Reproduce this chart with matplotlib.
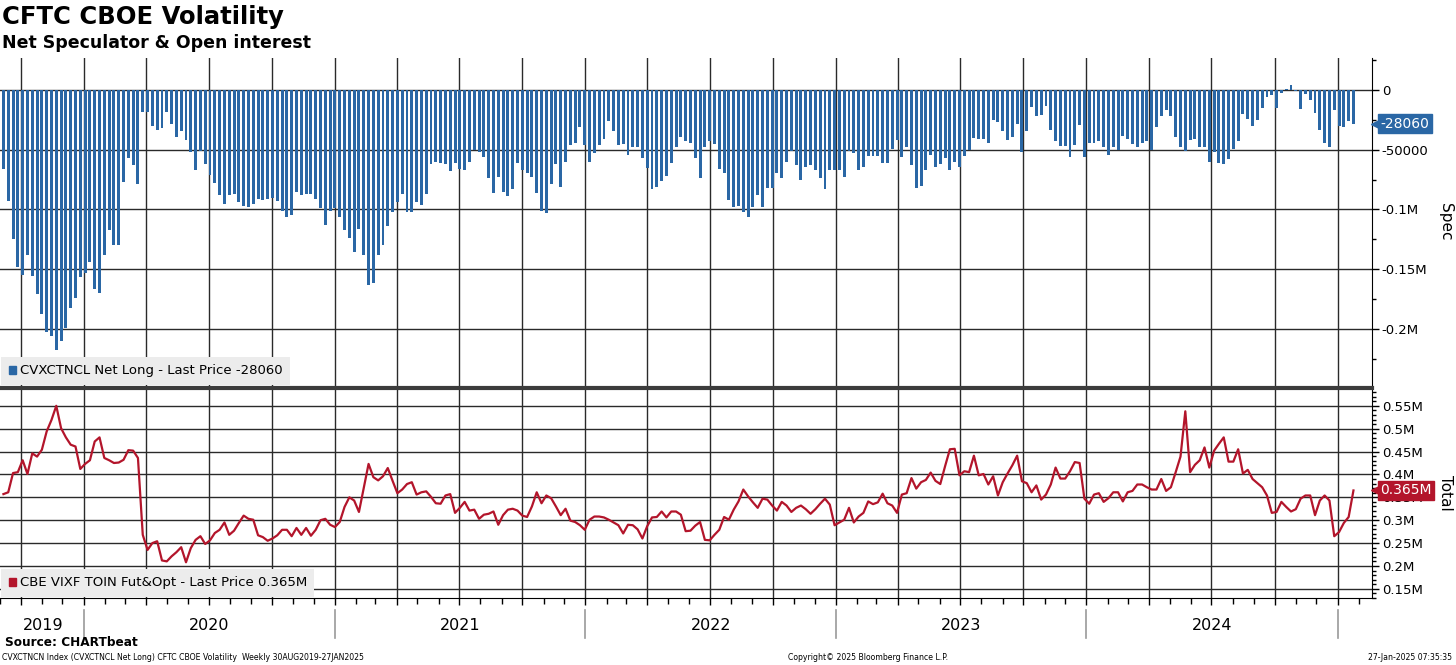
import matplotlib
matplotlib.use("Agg")
import matplotlib.pyplot as plt
import matplotlib.dates as mdates
import matplotlib.transforms as mtransforms
from matplotlib.patches import Patch
from matplotlib.ticker import FixedLocator, FixedFormatter, MultipleLocator
import pandas as pd

# weekly net speculator position (contracts)
spec = [
    -66000, -93000, -125000, -148000, -155000, -138000, -156000, -171000, -188000, -203000,
    -206000, -218000, -210000, -199000, -183000, -174000, -157000, -153000, -144000, -167000,
    -170000, -138000, -117000, -130000, -130000, -77000, -57000, -63000, -79000, -18000,
    -18000, -30000, -33000, -32000, -18000, -28000, -39000, -34000, -42000, -52000,
    -67000, -51000, -62000, -71000, -78000, -88000, -95000, -88000, -87000, -94000,
    -97000, -98000, -95000, -91000, -92000, -91000, -90000, -93000, -101000, -106000,
    -105000, -85000, -88000, -87000, -87000, -91000, -99000, -113000, -101000, -99000,
    -106000, -117000, -124000, -136000, -116000, -138000, -163000, -162000, -138000, -130000,
    -114000, -102000, -94000, -87000, -102000, -102000, -94000, -96000, -87000, -62000,
    -60000, -61000, -62000, -68000, -61000, -66000, -67000, -60000, -50000, -52000,
    -56000, -74000, -86000, -73000, -85000, -89000, -83000, -61000, -67000, -69000,
    -73000, -86000, -101000, -103000, -79000, -62000, -81000, -60000, -46000, -44000,
    -31000, -46000, -60000, -53000, -46000, -41000, -26000, -34000, -46000, -45000,
    -54000, -48000, -48000, -57000, -65000, -83000, -81000, -76000, -72000, -61000,
    -48000, -39000, -43000, -44000, -57000, -74000, -48000, -43000, -45000, -66000,
    -69000, -92000, -98000, -97000, -102000, -106000, -98000, -88000, -98000, -82000,
    -82000, -69000, -74000, -60000, -51000, -63000, -75000, -64000, -63000, -67000,
    -74000, -83000, -67000, -67000, -67000, -73000, -51000, -53000, -67000, -64000,
    -55000, -55000, -55000, -61000, -61000, -49000, -42000, -56000, -48000, -63000,
    -82000, -80000, -67000, -54000, -64000, -62000, -57000, -67000, -60000, -64000,
    -55000, -50000, -40000, -41000, -41000, -44000, -25000, -27000, -34000, -42000,
    -39000, -28000, -52000, -34000, -14000, -22000, -21000, -13000, -33000, -43000,
    -47000, -47000, -56000, -46000, -29000, -56000, -44000, -44000, -43000, -48000,
    -54000, -48000, -50000, -38000, -41000, -45000, -48000, -44000, -43000, -50000,
    -31000, -22000, -17000, -22000, -39000, -48000, -51000, -42000, -41000, -48000,
    -48000, -60000, -52000, -61000, -62000, -58000, -49000, -43000, -20000, -24000,
    -30000, -25000, -15000, -6000, -4000, -15000, -2000, 1000, 4000, -500,
    -16000, -3000, -8000, -19000, -33000, -44000, -48000, -17000, -30000, -31000,
    -26000, -28060,
]

# weekly total open interest, futures & options (thousand contracts)
total_k = [
    357, 361, 403, 405, 431, 401, 446, 439, 454, 494,
    519, 550, 501, 481, 465, 461, 412, 423, 431, 472,
    481, 436, 431, 425, 426, 432, 453, 452, 436, 268,
    235, 250, 254, 212, 210, 221, 230, 241, 208, 239,
    257, 265, 248, 256, 272, 279, 295, 268, 277, 294,
    310, 303, 301, 267, 263, 255, 260, 267, 279, 279,
    265, 283, 268, 283, 266, 279, 300, 303, 290, 285,
    296, 329, 350, 343, 318, 370, 423, 394, 387, 396,
    414, 386, 359, 367, 379, 383, 356, 361, 363, 351,
    337, 336, 354, 357, 316, 327, 340, 321, 323, 303,
    312, 314, 319, 290, 311, 323, 325, 321, 310, 307,
    330, 361, 337, 354, 348, 330, 311, 325, 299, 296,
    289, 279, 301, 308, 308, 306, 301, 295, 289, 271,
    290, 289, 280, 260, 287, 306, 307, 319, 306, 319,
    319, 312, 276, 277, 288, 296, 257, 256, 268, 279,
    307, 301, 323, 341, 367, 352, 339, 327, 347, 345,
    332, 321, 340, 332, 318, 327, 332, 324, 314, 324,
    336, 347, 334, 289, 295, 301, 327, 295, 308, 316,
    341, 335, 339, 358, 337, 332, 316, 356, 359, 392,
    369, 383, 388, 404, 386, 379, 418, 455, 456, 398,
    407, 405, 441, 398, 401, 378, 396, 354, 383, 402,
    420, 441, 385, 381, 361, 376, 345, 356, 378, 415,
    391, 391, 407, 427, 425, 347, 336, 356, 359, 340,
    348, 361, 361, 341, 361, 364, 378, 378, 372, 367,
    367, 390, 364, 372, 405, 439, 538, 405, 421, 431,
    459, 415, 452, 467, 481, 428, 428, 455, 402, 410,
    390, 381, 372, 354, 316, 318, 340, 329, 319, 324,
    347, 354, 354, 311, 343, 354, 343, 265, 274, 294,
    307, 365,
]
total = [v * 1000 for v in total_k]

spec_ticks = [0, -50000, -100000, -150000, -200000]
spec_tick_labels = ["0", "-50000", "-0.1M", "-0.15M", "-0.2M"]
total_ticks = [150000, 200000, 250000, 300000, 350000, 400000, 450000, 500000, 550000]
total_tick_labels = ["0.15M", "0.2M", "0.25M", "0.3M", "0.35M", "0.4M", "0.45M", "0.5M", "0.55M"]
years = [2019, 2020, 2021, 2022, 2023, 2024]

BLUE = "#2a67a5"
RED = "#b3152b"
GRID = "#2a2a2a"

dates_spec = pd.date_range(end="2025-01-24", periods=len(spec), freq="7D")
dates_total = pd.date_range(end="2025-01-24", periods=len(total), freq="7D")
x_lo, x_hi = pd.Timestamp("2019-09-04 12:00"), pd.Timestamp("2025-02-20")

fig = plt.figure(figsize=(14.56, 6.65), dpi=100)
ax1 = fig.add_axes([0.0, 0.4195, 0.9423, 0.4933])
ax2 = fig.add_axes([0.0, 0.1008, 0.9423, 0.3158])

quarters = pd.date_range("2019-10-01", "2025-01-01", freq="QS")
months = pd.date_range("2019-09-01", "2025-02-01", freq="MS")

for ax in (ax1, ax2):
    ax.set_xlim(x_lo, x_hi)
    ax.set_xticks(quarters)
    ax.set_xticks(months, minor=True)
    ax.xaxis.set_major_formatter(plt.NullFormatter())
    ax.grid(True, axis="both", which="major", color=GRID, lw=1.0)
    ax.set_axisbelow(True)
    for s in ("left", "top", "bottom"):
        ax.spines[s].set_visible(False)
    ax.spines["right"].set_color("black")
    ax.yaxis.tick_right()
    ax.tick_params(axis="y", which="major", direction="out", length=5, width=1,
                   labelsize=9.5, pad=2)
    ax.tick_params(axis="y", which="minor", direction="out", length=3, width=1)

ax1.tick_params(axis="x", which="both", length=0)
ax2.spines["bottom"].set_visible(True)
ax2.spines["top"].set_visible(True)
ax2.spines["top"].set_linewidth(3)
ax2.spines["top"].set_color("#3c3c3c")
ax2.tick_params(axis="x", which="major", direction="out", length=5, width=1)
ax2.tick_params(axis="x", which="minor", direction="out", length=4, width=1)

# top panel: net speculator bars
ax1.bar(dates_spec, spec, width=4.3, color=BLUE, zorder=2)
ax1.set_ylim(-248000, 27000)
ax1.yaxis.set_major_locator(FixedLocator(spec_ticks))
ax1.yaxis.set_major_formatter(FixedFormatter(spec_tick_labels))
ax1.yaxis.set_minor_locator(MultipleLocator(25000))
ax1.yaxis.set_label_position("right")
ax1.set_ylabel("Spec", rotation=270, fontsize=11, labelpad=18)

# bottom panel: total open interest line
ax2.plot(dates_total, total, color=RED, lw=1.6, zorder=3)
ax2.set_ylim(130000, 589000)
ax2.yaxis.set_major_locator(FixedLocator(total_ticks))
ax2.yaxis.set_major_formatter(FixedFormatter(total_tick_labels))
ax2.yaxis.set_minor_locator(MultipleLocator(10000))
ax2.yaxis.set_label_position("right")
ax2.set_ylabel("Total", rotation=270, fontsize=11, labelpad=22)

# last-price tags on the right axis
for ax, val, txt, col in ((ax1, spec[-1], "-28060", BLUE),
                          (ax2, total[-1], "0.365M", RED)):
    tr = mtransforms.blended_transform_factory(ax.transAxes, ax.transData)
    ax.plot([1.003], [val], marker="<", ms=7, color=col, transform=tr, clip_on=False, zorder=5)
    ax.text(1.006, val, txt, transform=tr, color="white", fontsize=10, va="center", ha="left",
            bbox=dict(boxstyle="square,pad=0.18", fc=col, ec=col), zorder=6)

# legends
leg_kw = dict(loc="lower left", bbox_to_anchor=(0.0, 0.0), frameon=True, fancybox=False,
              facecolor="#ececec", edgecolor="none", framealpha=1, fontsize=9.5,
              handlelength=0.6, handleheight=0.6, handletextpad=0.25, borderpad=0.55,
              borderaxespad=0.1)
ax1.legend(handles=[Patch(color=BLUE, label="CVXCTNCL Net Long - Last Price -28060")], **leg_kw)
ax2.legend(handles=[Patch(color=RED, label="CBE VIXF TOIN Fut&Opt - Last Price 0.365M")], **leg_kw)

# year labels and separators below the lower panel
trx = mtransforms.blended_transform_factory(ax2.transData, fig.transFigure)
for yr in years:
    start = max(pd.Timestamp(f"{yr}-01-01"), x_lo)
    end = pd.Timestamp(f"{yr + 1}-01-01")
    mid = start + (end - start) / 2
    ax2.text(mid, 1 - 626 / 665, str(yr), transform=trx, ha="center", va="center",
             fontsize=11.5, clip_on=False)
for yr in years[1:] + [2025]:
    d = pd.Timestamp(f"{yr}-01-01")
    ax2.plot([d, d], [1 - 610 / 665, 1 - 638 / 665], color="#9a9a9a", lw=1.2,
             transform=trx, clip_on=False)

fig.text(0.0015, 1 - 17 / 665, "CFTC CBOE Volatility", fontsize=17.5, fontweight="bold",
         va="center", ha="left")
fig.text(0.0015, 1 - 43 / 665, "Net Speculator & Open interest", fontsize=12.5,
         fontweight="bold", va="center", ha="left")
fig.text(0.0035, 1 - 643 / 665, "Source: CHARTbeat", fontsize=8.7, fontweight="bold",
         va="center", ha="left")
fig.text(0.0015, 1 - 657 / 665,
         "CVXCTNCN Index (CVXCTNCL Net Long) CFTC CBOE Volatility  Weekly 30AUG2019-27JAN2025",
         fontsize=5.6, va="center", ha="left")
fig.text(788 / 1456, 1 - 657 / 665, "Copyright\u00a9 2025 Bloomberg Finance L.P.",
         fontsize=5.6, va="center", ha="left")
fig.text(0.997, 1 - 657 / 665, "27-Jan-2025 07:35:35", fontsize=5.6, va="center", ha="right")

fig.savefig("out.png", dpi=100)
